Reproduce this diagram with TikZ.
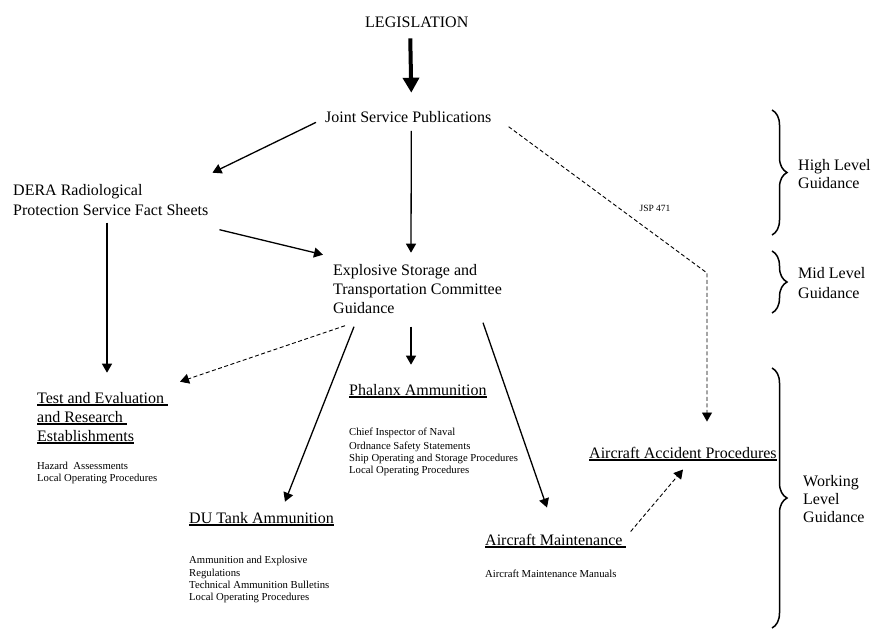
\documentclass[tikz,border=0pt]{standalone}
\usepackage{fontspec}
\setmainfont{Liberation Serif}
\newsavebox{\ulbox}
\newcommand{\ulinetxt}[1]{\sbox{\ulbox}{#1}\rlap{\rule[-3.4pt]{\wd\ulbox}{2.6pt}}\usebox{\ulbox}}
\usetikzlibrary{arrows.meta}
\usetikzlibrary{decorations.pathreplacing}

\begin{document}
\begin{tikzpicture}[x=1pt, y=-1pt,
    lbl/.style={anchor=base west, inner sep=0pt, align=left, font=\fontsize{16}{19}\selectfont},
    small/.style={anchor=base west, inner sep=0pt, align=left, font=\fontsize{10.7}{12}\selectfont},
    arr/.style={line width=1.3pt, -{Triangle[length=9pt,width=10pt]}},
    darr/.style={line width=0.9pt, dash pattern=on 4pt off 2.5pt, -{Triangle[length=9pt,width=10pt]}},
    bigarr/.style={line width=4pt, -{Triangle[length=15pt,width=16pt]}},
    brc/.style={decorate, decoration={brace, amplitude=15pt}, line width=1.5pt}]
    \useasboundingbox (0,0) rectangle (871,635);

    \node[lbl] (legis) at (365,27) {LEGISLATION};
    \node[lbl] (jsp) at (325,122) {Joint Service Publications};
    \node[lbl, font=\fontsize{16}{20}\selectfont] (dera) at (13,215) {DERA Radiological\\Protection Service Fact Sheets};
    \node[lbl] (estc) at (333,313) {Explosive Storage and\\Transportation Committee\\Guidance};

    \node[lbl] (test) at (37,441) {\ulinetxt{Test and Evaluation\ }\\\ulinetxt{and Research\ }\\\ulinetxt{Establishments}};
    \node[small, font=\fontsize{10.7}{11.5}\selectfont] (testtxt) at (37,481) {Hazard\ \ Assessments\\Local Operating Procedures};
    \node[lbl] (phal) at (349,395) {\ulinetxt{Phalanx Ammunition}};
    \node[small] (phaltxt) at (349,473.5) {Chief Inspector of Naval\\[2pt]Ordnance Safety Statements\\Ship Operating and Storage Procedures\\Local Operating Procedures};
    \node[lbl] (du) at (189,523) {\ulinetxt{DU Tank Ammunition}};
    \node[small] (dutxt) at (189,600.5) {Ammunition and Explosive\\[1pt]Regulations\\Technical Ammunition Bulletins\\Local Operating Procedures};
    \node[lbl] (aap) at (589,458) {\ulinetxt{Aircraft Accident Procedures}};
    \node[lbl] (am) at (485,545) {\ulinetxt{Aircraft Maintenance\ }};
    \node[small] (amtxt) at (485,577.5) {Aircraft Maintenance Manuals};
    \node[small, anchor=center, font=\fontsize{9.5}{11}\selectfont] (jsplbl) at (655,208) {JSP 471};

    \node[lbl, font=\fontsize{16}{18}\selectfont] (high) at (798,188) {High Level\\Guidance};
    \node[lbl, font=\fontsize{16}{20}\selectfont] (mid) at (798,298) {Mid Level\\Guidance};
    \node[lbl, font=\fontsize{16}{18}\selectfont] (work) at (803,522) {Working\\Level\\Guidance};

    \draw[bigarr] ([xshift=-6.5pt,yshift=-11pt]legis.south) -- ([xshift=3pt,yshift=18pt]jsp.north);
    \draw[arr] ([xshift=-9pt]jsp.south west) -- ([xshift=4pt,yshift=11pt]dera.north east);
    \draw[arr] ([xshift=3pt,yshift=-8.5pt]jsp.south) -- ([xshift=78pt,yshift=11pt]estc.north west);
    \draw[arr] ([xshift=11pt,yshift=-46pt]dera.north east) -- ([xshift=-10pt,yshift=9pt]estc.north west);
    \draw[arr] ([xshift=94pt,yshift=-39pt]dera.north west) -- ([xshift=70pt,yshift=19pt]test.north west);

    \draw[darr] ([xshift=12pt,yshift=-62pt]estc.north west) -- ([xshift=143pt,yshift=10pt]test.north west);
    \draw[arr] ([xshift=78pt,yshift=-63pt]estc.north west) -- ([xshift=62pt,yshift=19pt]phal.north west);
    \draw[arr] ([xshift=21pt,yshift=-63pt]estc.north west) -- ([xshift=96pt,yshift=10pt]du.north west);
    \draw[arr] ([xshift=150pt,yshift=-59pt]estc.north west) -- ([xshift=62pt,yshift=26pt]am.north west);

    \coordinate (bend) at (707,273);
    \draw[darr] ([xshift=17pt,yshift=-16pt]jsp.north east) -- (bend) -- ([xshift=118pt,yshift=25pt]aap.north west);
    \draw[darr] ([xshift=4pt,yshift=2pt]am.north east) -- ([xshift=94pt,yshift=-23pt]aap.north west);

    \coordinate (hiT) at (772,110);
    \coordinate (hiB) at (772,235);
    \coordinate (midT) at (772,251);
    \coordinate (midB) at (772,313);
    \coordinate (workT) at (772,368);
    \coordinate (workB) at (772,628);
    \draw[brc] (hiT) -- (hiB);
    \draw[brc] (midT) -- (midB);
    \draw[brc] (workT) -- (workB);
  \end{tikzpicture}
\end{document}
